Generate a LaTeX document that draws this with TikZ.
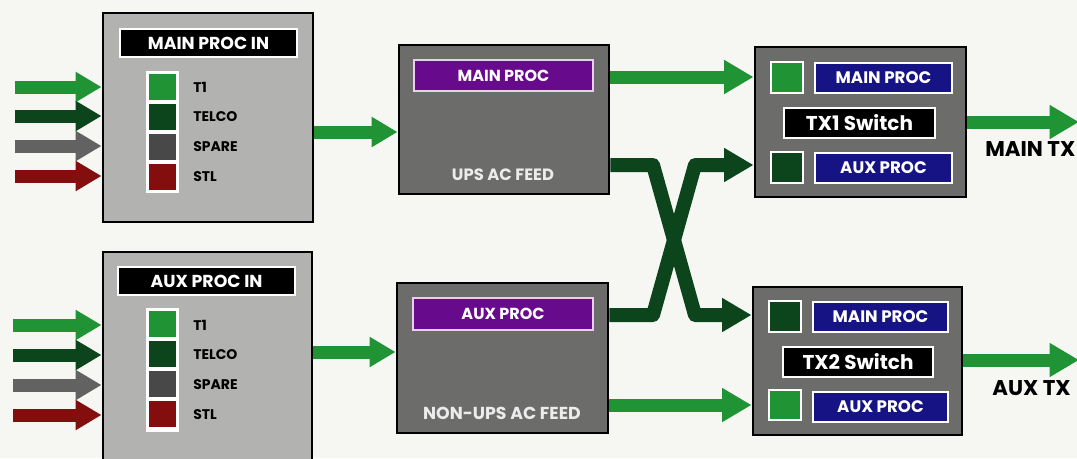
\documentclass[tikz,border=0pt]{standalone}
\usepackage{fontspec}
\setmainfont{Poppins}
\usetikzlibrary{arrows.meta,fit}
\definecolor{bg}{RGB}{246,246,243}
\definecolor{lgrey}{RGB}{178,178,176}
\definecolor{dgrey}{RGB}{108,108,106}
\definecolor{gr}{RGB}{32,148,52}
\definecolor{dgr}{RGB}{12,68,28}
\definecolor{agrey}{RGB}{98,98,98}
\definecolor{sgrey}{RGB}{72,72,72}
\definecolor{dred}{RGB}{132,14,14}
\definecolor{purp}{RGB}{104,10,140}
\definecolor{navy}{RGB}{22,20,132}
\definecolor{feedtxt}{RGB}{236,236,236}
\begin{document}
\begin{tikzpicture}[x=0.75pt,y=-0.75pt,font=\bfseries,
  panel/.style={draw=black,line width=2.2pt,inner sep=0pt},
  lightpanel/.style={panel,fill=lgrey},
  darkpanel/.style={panel,fill=dgrey},
  bar/.style={draw=white,line width=1.1pt,inner sep=0pt},
  blackbar/.style={bar,fill=black},
  purpbar/.style={bar,fill=purp,draw={rgb,255:red,235;green,205;blue,240}},
  navybar/.style={bar,fill=navy},
  bartext/.style={inner sep=0pt,text=white,anchor=center},
  swatch/.style={draw=white,line width=1.1pt,inner sep=0pt},
  lbl/.style={anchor=west,inner sep=0pt,font=\bfseries\fontsize{10.5}{12}\selectfont,text=black},
  feed/.style={inner sep=0pt,text=feedtxt},
  arr/.style={line width=9.75pt,-{Triangle[length=19.5pt,width=21.5pt]}},
  bigarr/.style={line width=9.75pt,-{Triangle[length=22pt,width=24pt]}},
  crossarr/.style={line width=10.5pt,line join=round,draw=dgr,-{Triangle[length=22pt,width=24pt]}}
]
\useasboundingbox[fill=bg] (0,0) rectangle (1077,458);

% ---------- input panels ----------
\node[lightpanel,fit={(103,13)(313,222)}] (mainin) {};
\node[blackbar,fit={(120,29)(297,57)}] (maintitle) {};
\node[bartext,font=\bfseries\fontsize{13}{15}\selectfont] (maintitlet) at (maintitle.center) {MAIN PROC IN};
\fill[white] (146,71) rectangle (179,193);
\node[swatch,fill=gr,fit={(148,73)(177,101)}] (m1) {};
\node[swatch,fill=dgr,fit={(148,103)(177,131)}] (m2) {};
\node[swatch,fill=sgrey,fit={(148,133)(177,161)}] (m3) {};
\node[swatch,fill=dred,fit={(148,163)(177,191)}] (m4) {};
\node[lbl] (ml1) at (193,87) {T1};
\node[lbl] (ml2) at (193,117) {TELCO};
\node[lbl] (ml3) at (193,147) {SPARE};
\node[lbl] (ml4) at (193,177) {STL};

\node[lightpanel,fit={(103,252)(312,475)}] (auxin) {};
\node[blackbar,fit={(118,267)(295,295)}] (auxtitle) {};
\node[bartext,font=\bfseries\fontsize{13}{15}\selectfont] (auxtitlet) at (auxtitle.center) {AUX PROC IN};
\fill[white] (146,308) rectangle (179,432);
\node[swatch,fill=gr,fit={(148,310)(177,338)}] (a1) {};
\node[swatch,fill=dgr,fit={(148,340)(177,368)}] (a2) {};
\node[swatch,fill=sgrey,fit={(148,370)(177,398)}] (a3) {};
\node[swatch,fill=dred,fit={(148,400)(177,428)}] (a4) {};
\node[lbl] (al1) at (193,325) {T1};
\node[lbl] (al2) at (193,355) {TELCO};
\node[lbl] (al3) at (193,385) {SPARE};
\node[lbl] (al4) at (193,415) {STL};

% ---------- processor panels ----------
\node[darkpanel,fit={(399,45)(609,194)}] (ups) {};
\node[purpbar,fit={(414,60)(593,91)}] (upsname) {};
\node[bartext,font=\bfseries\fontsize{12}{14}\selectfont] (upsnamet) at (upsname.center) {MAIN PROC};
\node[feed,font=\bfseries\fontsize{12.3}{14}\selectfont] (upsfeed) at (503,175) {UPS AC FEED};

\node[darkpanel,fit={(397,283)(608,433)}] (nonups) {};
\node[purpbar,fit={(413,298)(593,330)}] (nonupsname) {};
\node[bartext,font=\bfseries\fontsize{12}{14}\selectfont] (nonupsnamet) at (nonupsname.center) {AUX PROC};
\node[feed,font=\bfseries\fontsize{13}{14}\selectfont] (nonupsfeed) at (502,413) {NON-UPS AC FEED};

% ---------- switch panels ----------
\node[darkpanel,fit={(755,47)(966,197)}] (tx1) {};
\node[swatch,fill=gr,fit={(771,62)(803,93)}] (tx1sa) {};
\node[navybar,fit={(815,63)(952,93)}] (tx1main) {};
\node[bartext,font=\bfseries\fontsize{12.5}{14}\selectfont] (tx1maint) at (tx1main.center) {MAIN PROC};
\node[blackbar,fit={(784,108)(935,138)}] (tx1name) {};
\node[bartext,font=\bfseries\fontsize{15}{17}\selectfont] (tx1namet) at (tx1name.center) {TX1 Switch};
\node[swatch,fill=dgr,fit={(771,152)(803,183)}] (tx1sb) {};
\node[navybar,fit={(815,153)(952,183)}] (tx1aux) {};
\node[bartext,font=\bfseries\fontsize{12.5}{14}\selectfont] (tx1auxt) at (tx1aux.center) {AUX PROC};

\node[darkpanel,fit={(753,287)(962,435)}] (tx2) {};
\node[swatch,fill=dgr,fit={(769,301)(801,332)}] (tx2sa) {};
\node[navybar,fit={(813,302)(948,332)}] (tx2main) {};
\node[bartext,font=\bfseries\fontsize{12.5}{14}\selectfont] (tx2maint) at (tx2main.center) {MAIN PROC};
\node[blackbar,fit={(783,347)(933,377)}] (tx2name) {};
\node[bartext,font=\bfseries\fontsize{15}{17}\selectfont] (tx2namet) at (tx2name.center) {TX2 Switch};
\node[swatch,fill=gr,fit={(769,390)(801,420)}] (tx2sb) {};
\node[navybar,fit={(813,392)(948,422)}] (tx2aux) {};
\node[bartext,font=\bfseries\fontsize{12.5}{14}\selectfont] (tx2auxt) at (tx2aux.center) {AUX PROC};

\node[anchor=west,inner sep=0pt,font=\bfseries\fontsize{16}{18}\selectfont] (maintx) at (985,149) {MAIN TX};
\node[anchor=west,inner sep=0pt,font=\bfseries\fontsize{16}{18}\selectfont] (auxtx) at (992,388) {AUX TX};

% ---------- coordinates ----------
\coordinate (s1) at (15,87);  \coordinate (s2) at (15,116);
\coordinate (s3) at (15,146); \coordinate (s4) at (15,176);
\coordinate (t1) at (13,325); \coordinate (t2) at (13,355);
\coordinate (t3) at (13,385); \coordinate (t4) at (13,415);
\coordinate (y77) at (0,77);   \coordinate (y122) at (0,122);
\coordinate (y132) at (0,132); \coordinate (y165) at (0,165);
\coordinate (y315) at (0,315); \coordinate (y352) at (0,352);
\coordinate (y360) at (0,360); \coordinate (y405) at (0,405);
\coordinate (k1) at (653,165); \coordinate (k2) at (695,315);
\coordinate (k3) at (653,315); \coordinate (k4) at (695,165);
\coordinate (out1) at (1079,122); \coordinate (out2) at (1079,360);

% ---------- input arrows ----------
\draw[arr,gr]    (s1) -- (mainin.west |- s1);
\draw[arr,dgr]   (s2) -- (mainin.west |- s2);
\draw[arr,agrey] (s3) -- (mainin.west |- s3);
\draw[arr,dred]  (s4) -- (mainin.west |- s4);
\draw[arr,gr]    (t1) -- (auxin.west |- t1);
\draw[arr,dgr]   (t2) -- (auxin.west |- t2);
\draw[arr,agrey] (t3) -- (auxin.west |- t3);
\draw[arr,dred]  (t4) -- (auxin.west |- t4);

% ---------- connections ----------
\draw[arr,gr] (mainin.east |- y132) -- (ups.west |- y132);
\draw[arr,gr] (auxin.east |- y352) -- (nonups.west |- y352);
\draw[bigarr,gr] (ups.east |- y77) -- (tx1.west |- y77);
\draw[bigarr,gr] (nonups.east |- y405) -- (tx2.west |- y405);
\draw[crossarr] (ups.east |- y165) -- (k1) -- (k2) -- (tx2.west |- y315);
\draw[crossarr] (nonups.east |- y315) -- (k3) -- (k4) -- (tx1.west |- y165);
\draw[bigarr,gr] (tx1.east |- y122) -- (out1);
\draw[bigarr,gr] (tx2.east |- y360) -- (out2);
\end{tikzpicture}
\end{document}
